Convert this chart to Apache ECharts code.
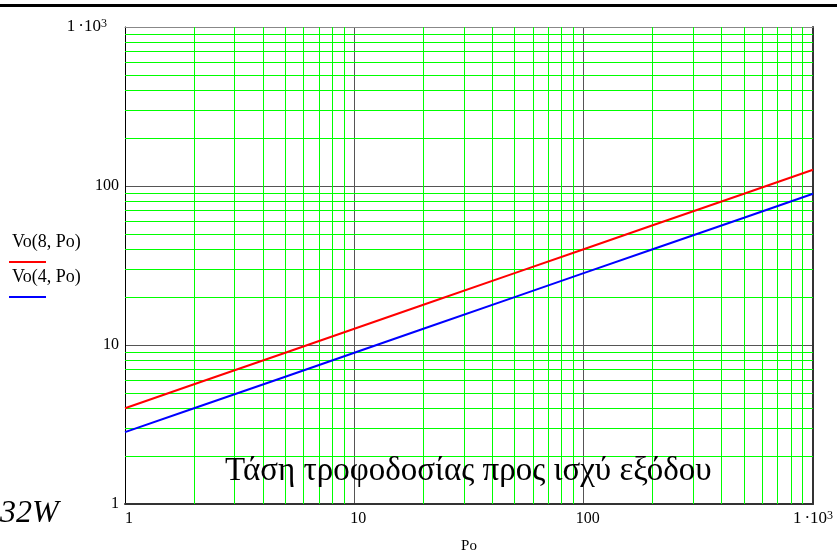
<!DOCTYPE html>
<html>
<head>
<meta charset="utf-8">
<script src="https://cdn.jsdelivr.net/npm/echarts@6/dist/echarts.min.js"></script>
<style>html,body{margin:0;padding:0;background:#fff}#c{width:837px;height:550px}</style>
</head>
<body>
<div id="c"></div>
<script>
// Data
const po = [1, 2, 5, 10, 20, 50, 100, 200, 500, 1000];
const vo8 = [4.0, 5.66, 8.94, 12.65, 17.9, 28.3, 40.0, 56.6, 89.4, 126.5];
const vo4 = [2.83, 4.0, 6.32, 8.94, 12.65, 20.0, 28.3, 40.0, 63.2, 89.4];
const minorGrid = [2, 3, 4, 5, 6, 7, 8, 9, 20, 30, 40, 50, 60, 70, 80, 90, 200, 300, 400, 500, 600, 700, 800, 900];
const seriesNames = ['Vo(8, Po)', 'Vo(4, Po)'];
const titleText = 'Τάση τροφοδοσίας προς ισχύ εξόδου';
const sideText = '32W';
const xName = 'Po';

const FONT = '"Liberation Serif", "Times New Roman", serif';
const chart = echarts.init(document.getElementById('c'));

const minorLines = [];
minorGrid.forEach(v => minorLines.push({ xAxis: v }));
minorGrid.forEach(v => minorLines.push({ yAxis: v }));

function xLabel(v) {
  if (v >= 1000) return '{b|1}{c|·10}{s|3}';
  return '{a|' + v + '}';
}
function yLabel(v) {
  if (v >= 1000) return '{b|1}{c|·10}{s|3}{p|}';
  return '{a|' + v + '}';
}
const richCommon = {
  a: { fontFamily: FONT, fontSize: 16, color: '#000', lineHeight: 18 },
  b: { fontFamily: FONT, fontSize: 17, color: '#000', lineHeight: 18 },
  c: { fontFamily: FONT, fontSize: 17, color: '#000', lineHeight: 18, padding: [0, 0, 0, 3] },
  s: { fontFamily: FONT, fontSize: 12, color: '#000', verticalAlign: 'top', lineHeight: 12 },
  p: { width: 12 }
};

chart.setOption({
  animation: false,
  backgroundColor: '#fff',
  grid: { left: 125, right: 24, top: 27, bottom: 46, containLabel: false, outerBoundsMode: 'none' },
  xAxis: [{
    type: 'log', logBase: 10, min: 1, max: 1000,
    name: xName, nameLocation: 'middle', nameGap: 35,
    nameTextStyle: { fontFamily: FONT, fontSize: 15, color: '#000' },
    axisLine: { show: true, onZero: false, lineStyle: { color: '#333', width: 2 } },
    axisTick: { show: false },
    splitLine: { show: true, lineStyle: { color: '#555', width: 1 } },
    minorTick: { show: false }, minorSplitLine: { show: false },
    axisLabel: {
      margin: 6, formatter: xLabel,
      rich: Object.assign({}, richCommon, { a: Object.assign({}, richCommon.a, { padding: [0, 0, 0, 8] }) })
    }
  }, {
    type: 'log', logBase: 10, min: 1, max: 1000, position: 'top',
    axisLine: { show: true, onZero: false, lineStyle: { color: '#888', width: 1 } },
    axisTick: { show: false }, axisLabel: { show: false }, splitLine: { show: false }
  }],
  yAxis: [{
    type: 'log', logBase: 10, min: 1, max: 1000,
    axisLine: { show: true, onZero: false, lineStyle: { color: '#000', width: 1 } },
    axisTick: { show: false },
    splitLine: { show: true, lineStyle: { color: '#555', width: 1 } },
    axisLabel: { margin: 6, formatter: yLabel, rich: richCommon }
  }, {
    type: 'log', logBase: 10, min: 1, max: 1000, position: 'right',
    axisLine: { show: true, onZero: false, lineStyle: { color: '#333', width: 2 } },
    axisTick: { show: false }, axisLabel: { show: false }, splitLine: { show: false }
  }],
  series: [{
    type: 'line', name: 'grid', z: 1, silent: true,
    data: [[1, 1]], showSymbol: false, lineStyle: { opacity: 0 },
    markLine: {
      silent: true, symbol: 'none', animation: false,
      label: { show: false },
      lineStyle: { color: '#00ff00', width: 1, type: 'solid' },
      data: minorLines
    }
  }, {
    type: 'line', name: seriesNames[0], z: 5, showSymbol: false, smooth: false,
    data: po.map((x, i) => [x, vo8[i]]),
    lineStyle: { color: '#ff0000', width: 2 }, itemStyle: { color: '#ff0000' }
  }, {
    type: 'line', name: seriesNames[1], z: 5, showSymbol: false, smooth: false,
    data: po.map((x, i) => [x, vo4[i]]),
    lineStyle: { color: '#0000ff', width: 2 }, itemStyle: { color: '#0000ff' }
  }],
  graphic: [
    { type: 'rect', shape: { x: 0, y: 4, width: 837, height: 3 }, style: { fill: '#000' }, silent: true },
    { type: 'text', x: 12, y: 251, style: { text: seriesNames[0], font: '18px ' + FONT, fill: '#000', textVerticalAlign: 'bottom' } },
    { type: 'rect', shape: { x: 9, y: 261, width: 37, height: 2 }, style: { fill: '#ff0000' } },
    { type: 'text', x: 12, y: 286, style: { text: seriesNames[1], font: '18px ' + FONT, fill: '#000', textVerticalAlign: 'bottom' } },
    { type: 'rect', shape: { x: 9, y: 296, width: 37, height: 2 }, style: { fill: '#0000ff' } },
    { type: 'text', x: 225, y: 471, z: 10, style: { text: titleText, font: '33px ' + FONT, fill: '#000', textVerticalAlign: 'middle' } },
    { type: 'text', x: 0, y: 514, style: { text: sideText, font: 'italic 32px ' + FONT, fill: '#000', textVerticalAlign: 'middle' } }
  ]
});
</script>
</body>
</html>
